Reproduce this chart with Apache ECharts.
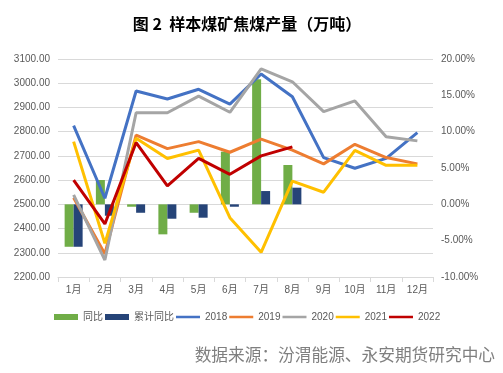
<!DOCTYPE html>
<html><head><meta charset="utf-8">
<script src="https://cdn.jsdelivr.net/npm/echarts@6/dist/echarts.min.js"></script>
<style>html,body{margin:0;padding:0;background:#fff}#c{width:503px;height:373px}</style>
</head><body><div id="c"></div>
<script>
const months = ['1月','2月','3月','4月','5月','6月','7月','8月','9月','10月','11月','12月'];
const yoy = [-5.84, 3.35, -0.33, -4.13, -1.16, 7.25, 17.2, 5.41];
const cumYoy = [-5.84, -1.57, -1.16, -1.98, -1.84, -0.33, 1.83, 2.29];
const y2018 = [2825, 2525, 2968, 2935, 2975, 2914, 3038, 2944, 2693, 2649, 2690, 2796];
const y2019 = [2527, 2295, 2786, 2730, 2759, 2715, 2769, 2724, 2667, 2748, 2693, 2667];
const y2020 = [2539, 2270, 2878, 2878, 2947, 2880, 3059, 3006, 2883, 2927, 2779, 2762];
const y2021 = [2759, 2339, 2773, 2689, 2724, 2445, 2302, 2596, 2550, 2723, 2661, 2661];
const y2022 = [2600, 2419, 2755, 2576, 2690, 2624, 2700, 2737];

const FONT = 'Liberation Sans, Noto Sans CJK SC, sans-serif';
const chart = echarts.init(document.getElementById('c'), null, {renderer:'canvas'});
function line(name, data, color){
  return {name, type:'line', data, yAxisIndex:0, symbol:'none', lineStyle:{width:3, color}, itemStyle:{color}};
}
const lineIcon = 'path://M0,0 L0.01,0 L0,0 Z M0,6 L0.01,6 L0,6 Z M0,1.6 L26,1.6 L26,4.4 L0,4.4 Z';
function legLine(name){ return {name, icon:lineIcon}; }
chart.setOption({
  animation:false,
  textStyle:{fontFamily:FONT},
  title:{text:'图 2  样本煤矿焦煤产量（万吨）', left:242, textAlign:'center', top:11,
    textStyle:{fontSize:16, fontWeight:'bold', color:'#000', fontFamily:'Noto Sans CJK SC, sans-serif'}},
  grid:{left:58, right:70, top:59, bottom:96},
  legend:{left:49, top:307, itemGap:2, itemWidth:24, itemHeight:6,
    textStyle:{fontSize:10, color:'#595959', fontFamily:FONT},
    data:[{name:'同比', icon:'rect'},{name:'累计同比', icon:'rect'},
      legLine('2018'),legLine('2019'),legLine('2020'),legLine('2021'),legLine('2022')]},
  xAxis:{type:'category', data:months,
    axisLine:{onZero:false, lineStyle:{color:'#d9d9d9'}},
    axisTick:{show:true, length:5, lineStyle:{color:'#d9d9d9'}},
    axisLabel:{fontSize:10, color:'#595959', margin:8}},
  yAxis:[
    {type:'value', min:2200, max:3100, interval:100,
      axisLabel:{fontSize:10, color:'#595959', formatter:v=>v.toFixed(2)},
      splitLine:{lineStyle:{color:'#d9d9d9'}}, axisLine:{show:false}, axisTick:{show:false}},
    {type:'value', min:-10, max:20, interval:5,
      axisLabel:{fontSize:10, color:'#595959', formatter:v=>v.toFixed(2)+'%'},
      splitLine:{show:false}, axisLine:{show:false}, axisTick:{show:false}}
  ],
  series:[
    {name:'同比', type:'bar', yAxisIndex:1, data:yoy, barWidth:9, barGap:'0%', itemStyle:{color:'#70AD47'}},
    {name:'累计同比', type:'bar', yAxisIndex:1, data:cumYoy, barWidth:9, barGap:'0%', itemStyle:{color:'#264478'}},
    line('2018', y2018, '#4472C4'),
    line('2019', y2019, '#ED7D31'),
    line('2020', y2020, '#A5A5A5'),
    line('2021', y2021, '#FFC000'),
    line('2022', y2022, '#C00000')
  ],
  graphic:[{type:'text', right:8, top:346,
    style:{text:'数据来源：汾渭能源、永安期货研究中心', fontSize:16.7, fill:'#7f7f7f', fontFamily:'Noto Sans CJK SC, sans-serif'}}]
});
</script></body></html>
